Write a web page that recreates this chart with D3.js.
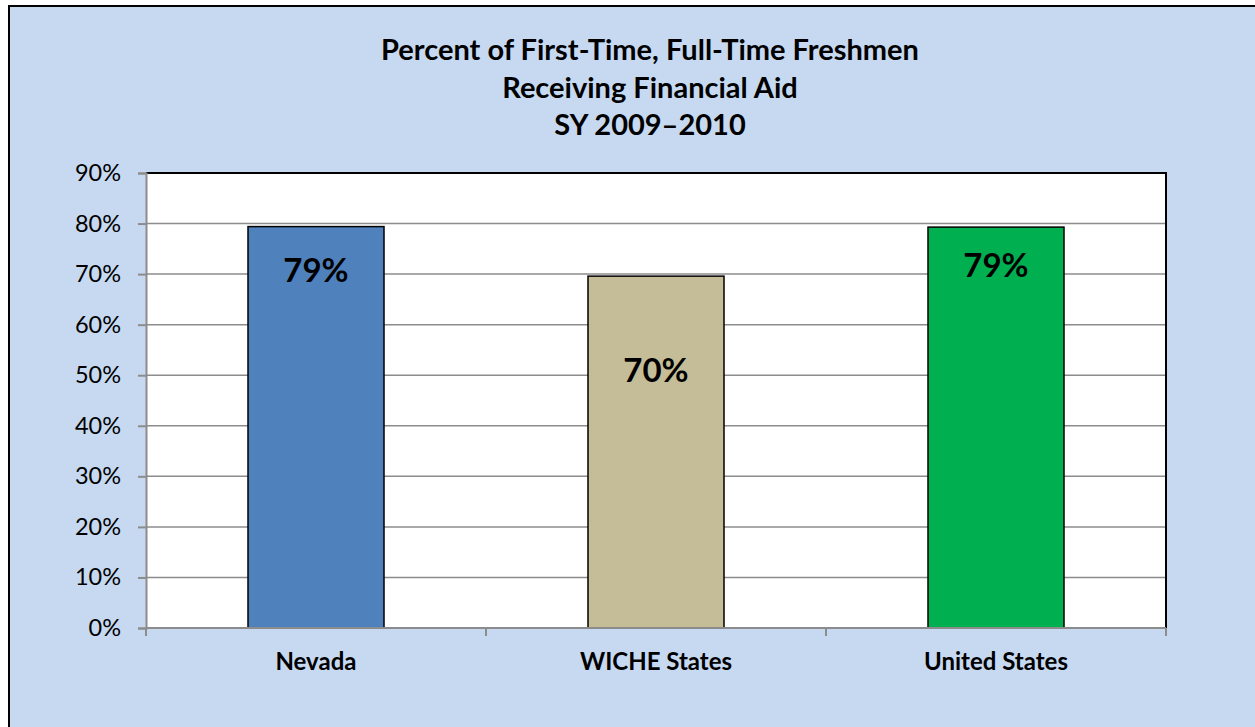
<!DOCTYPE html>
<html>
<head>
<meta charset="utf-8">
<script src="https://cdn.jsdelivr.net/npm/d3@7"></script>
<style>
  body { margin: 0; background: #fff; }
  text { font-family: Lato, "Open Sans", sans-serif; fill: #000; }
</style>
</head>
<body>
<div id="chart"></div>
<script>
//-- Data --//
var categories = ["Nevada", "WICHE States", "United States"];
var values = [79.4, 69.6, 79.3];
var valueLabels = ["79%", "70%", "79%"];
var barColors = ["#4F81BD", "#C4BD97", "#00B050"];
var yTicks = [0, 10, 20, 30, 40, 50, 60, 70, 80, 90];
var titleLines = ["Percent of First-Time, Full-Time Freshmen", "Receiving Financial Aid", "SY 2009\u20132010"];

// label drop below bar top (px), Excel labels were hand-placed
var labelDrop = [44, 94, 38];

//-- Sizes --//
var W = 1255, H = 727;
var margin = {top: 173, right: 89, bottom: 99, left: 146},
    width = W - margin.left - margin.right,
    height = H - margin.top - margin.bottom;

var svg = d3.select("#chart").append("svg")
  .attr("width", W)
  .attr("height", H);

// background + outer border
svg.append("rect")
  .attr("x", 9).attr("y", 6)
  .attr("width", W + 10).attr("height", H + 10)
  .attr("fill", "#C6D9F1")
  .attr("stroke", "#000")
  .attr("stroke-width", 2);

// title
svg.append("g").selectAll("text")
  .data(titleLines)
  .enter().append("text")
  .attr("x", 650)
  .attr("y", function(d, i) { return 60 + i * 37.5; })
  .attr("text-anchor", "middle")
  .style("font-size", "29px")
  .style("font-weight", "bold")
  .text(function(d) { return d; });

var g = svg.append("g")
  .attr("transform", "translate(" + margin.left + "," + margin.top + ")");

//-- Scales --//
var xScale = d3.scaleBand().domain(categories).range([0, width]).paddingInner(0.6).paddingOuter(0.3);
var xBounds = d3.scaleLinear().domain([0, categories.length]).range([0, width]);
var yScale = d3.scaleLinear().domain([0, 90]).range([height, 0]);

// plot area
g.append("rect")
  .attr("width", width).attr("height", height)
  .attr("fill", "#fff");

// gridlines
g.append("g").selectAll("line")
  .data(yTicks.slice(1, -1))
  .enter().append("line")
  .attr("x1", 0).attr("x2", width)
  .attr("y1", function(d) { return yScale(d); })
  .attr("y2", function(d) { return yScale(d); })
  .attr("stroke", "#8C8C8C")
  .attr("stroke-width", 1.5);

// plot border top + right
g.append("path")
  .attr("d", "M0," + yScale(90) + "H" + width + "V" + height)
  .attr("fill", "none")
  .attr("stroke", "#000")
  .attr("stroke-width", 2);

// bars
g.append("g").selectAll("rect")
  .data(values)
  .enter().append("rect")
  .attr("x", function(d, i) { return xScale(categories[i]); })
  .attr("width", xScale.bandwidth())
  .attr("y", function(d) { return yScale(d); })
  .attr("height", function(d) { return height - yScale(d); })
  .attr("fill", function(d, i) { return barColors[i]; })
  .attr("stroke", "#000")
  .attr("stroke-width", 1.5);

// value labels
g.append("g").selectAll("text")
  .data(values)
  .enter().append("text")
  .attr("x", function(d, i) { return xScale(categories[i]) + xScale.bandwidth() / 2; })
  .attr("y", function(d, i) { return yScale(d) + labelDrop[i]; })
  .attr("dy", "0.35em")
  .attr("text-anchor", "middle")
  .style("font-size", "33px")
  .style("font-weight", "bold")
  .text(function(d, i) { return valueLabels[i]; });

//-- Axes --//
var yAxis = d3.axisLeft(yScale).tickValues(yTicks)
  .tickFormat(function(d) { return d + "%"; })
  .tickSize(8).tickPadding(17);
var yG = g.append("g").call(yAxis);
yG.select(".domain").attr("stroke", "#8C8C8C").attr("stroke-width", 2);
yG.selectAll(".tick line").attr("stroke", "#8C8C8C").attr("stroke-width", 2);
yG.selectAll(".tick text")
  .style("font-size", "23.5px")
  .style("font-family", "Lato, 'Open Sans', sans-serif");

// x axis line + boundary ticks
var xG = g.append("g").attr("transform", "translate(0," + height + ")");
xG.append("line")
  .attr("x1", 0).attr("x2", width)
  .attr("stroke", "#8C8C8C").attr("stroke-width", 2);
xG.selectAll(".xtick")
  .data(d3.range(categories.length + 1))
  .enter().append("line")
  .attr("class", "xtick")
  .attr("x1", function(d) { return xBounds(d); })
  .attr("x2", function(d) { return xBounds(d); })
  .attr("y1", 0).attr("y2", 8)
  .attr("stroke", "#8C8C8C").attr("stroke-width", 2);
xG.selectAll(".xlabel")
  .data(categories)
  .enter().append("text")
  .attr("class", "xlabel")
  .attr("x", function(d) { return xScale(d) + xScale.bandwidth() / 2; })
  .attr("y", 42)
  .attr("text-anchor", "middle")
  .style("font-size", "24px")
  .style("font-weight", "bold")
  .text(function(d) { return d; });
</script>
</body>
</html>
